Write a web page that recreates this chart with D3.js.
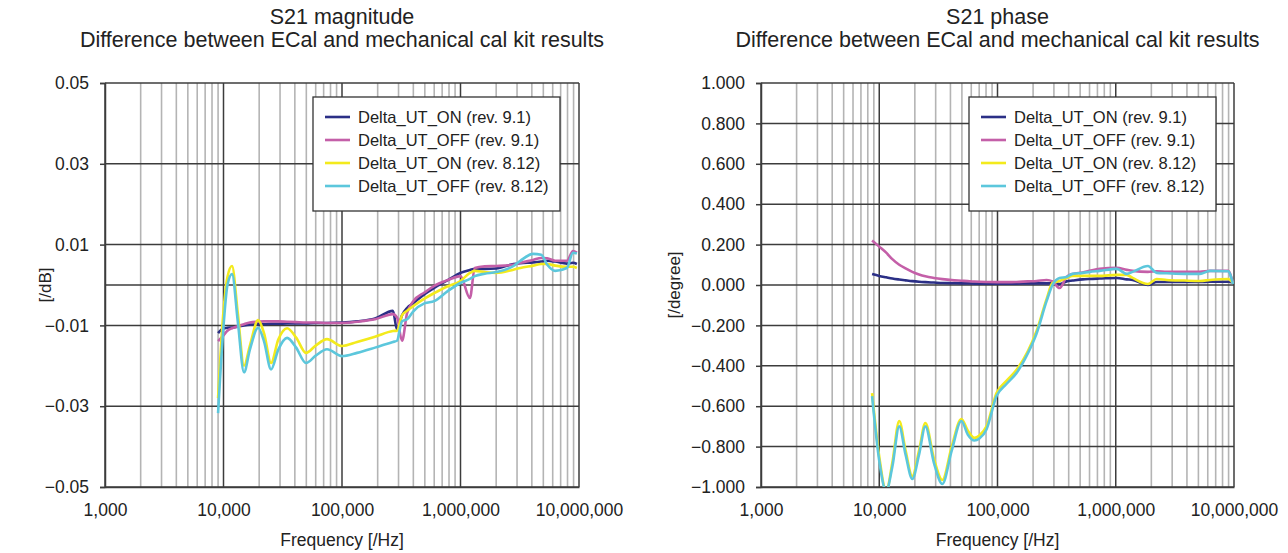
<!DOCTYPE html>
<html>
<head>
<meta charset="utf-8">
<script src="https://cdn.jsdelivr.net/npm/d3@7"></script>
<style>
    body { margin: 0; background: #fff; }
    svg { font-family: "Liberation Sans", Arial, sans-serif; }
</style>
</head>
<body>
<svg id="chart" width="1288" height="553"></svg>
<script>
// legend / series
const seriesNames = ["Delta_UT_ON (rev. 9.1)", "Delta_UT_OFF (rev. 9.1)", "Delta_UT_ON (rev. 8.12)", "Delta_UT_OFF (rev. 8.12)"];
const seriesColors = ["#2b2f86", "#c45fa8", "#f3ea1c", "#5cc7dc"];

// axis ticks
const xTicks = [1e3, 1e4, 1e5, 1e6, 1e7];
const magTicks = [-0.05, -0.03, -0.01, 0.01, 0.03, 0.05];
const magGrid = [-0.05, -0.03, -0.01, 0, 0.01, 0.03, 0.05];
const phaseTicks = [-1, -0.8, -0.6, -0.4, -0.2, 0, 0.2, 0.4, 0.6, 0.8, 1];

// S21 magnitude [dB]
const magFreq = [9000, 9900, 10800, 11800, 13200, 14900, 16700, 19600, 22000, 25200, 29000, 34400, 41000, 49700, 60000, 74700, 100000, 134000, 190000, 269000, 291000, 321000, 354000, 400000, 500000, 600000, 780000, 1000000, 1200000, 1320000, 1600000, 2000000, 2800000, 3200000, 4100000, 4800000, 5400000, 6300000, 7900000, 8900000, 9600000];
const magOn91 = [-0.0119, -0.0108, -0.0106, -0.0105, -0.0103, -0.0100, -0.0098, -0.0097, -0.0097, -0.0096, -0.0096, -0.0095, -0.0095, -0.0095, -0.0094, -0.0094, -0.0093, -0.0090, -0.0083, -0.0064, -0.0110, -0.0075, -0.0057, -0.0045, -0.0022, -0.0007, 0.0012, 0.0030, 0.0037, 0.0040, 0.0040, 0.0041, 0.0052, 0.0054, 0.0056, 0.0058, 0.0060, 0.0058, 0.0053, 0.0055, 0.0052];
const magOff91 = [-0.0139, -0.0126, -0.0113, -0.0107, -0.0102, -0.0097, -0.0093, -0.0091, -0.0090, -0.0090, -0.0090, -0.0091, -0.0092, -0.0093, -0.0093, -0.0094, -0.0094, -0.0091, -0.0085, -0.0072, -0.0080, -0.0138, -0.0070, -0.0040, -0.0018, -0.0002, 0.0012, 0.0022, -0.0032, 0.0042, 0.0046, 0.0047, 0.0050, 0.0055, 0.0062, 0.0067, 0.0066, 0.0060, 0.0060, 0.0084, 0.0080];
const magOn812 = [-0.0280, -0.0080, 0.0020, 0.0047, -0.0070, -0.0200, -0.0150, -0.0087, -0.0120, -0.0193, -0.0135, -0.0107, -0.0130, -0.0168, -0.0150, -0.0134, -0.0151, -0.0141, -0.0128, -0.0114, -0.0113, -0.0075, -0.0064, -0.0052, -0.0033, -0.0020, -0.0003, 0.0010, 0.0030, 0.0035, 0.0032, 0.0030, 0.0038, 0.0042, 0.0048, 0.0052, 0.0052, 0.0048, 0.0045, 0.0045, 0.0042];
const magOff812 = [-0.0317, -0.0120, 0.0000, 0.0027, -0.0090, -0.0216, -0.0160, -0.0106, -0.0140, -0.0209, -0.0160, -0.0131, -0.0155, -0.0193, -0.0175, -0.0159, -0.0176, -0.0168, -0.0155, -0.0141, -0.0138, -0.0090, -0.0085, -0.0065, -0.0045, -0.0040, -0.0015, 0.0005, 0.0015, 0.0022, 0.0028, 0.0032, 0.0047, 0.0060, 0.0077, 0.0075, 0.0050, 0.0035, 0.0042, 0.0080, 0.0078];

// S21 phase [degree]
const phaseFreq = [8700, 10000, 11450, 12900, 14760, 16700, 19040, 21700, 24550, 29000, 34200, 41000, 49500, 56000, 63800, 70300, 80700, 98100, 119000, 145000, 180000, 214000, 260000, 292000, 335000, 384000, 432000, 525000, 602000, 731000, 1020000, 1240000, 1390000, 1870000, 2220000, 2700000, 3800000, 5150000, 6260000, 8900000, 9800000];
const phaseOn91 = [0.054, 0.045, 0.038, 0.032, 0.027, 0.023, 0.019, 0.016, 0.014, 0.012, 0.010, 0.009, 0.008, 0.008, 0.007, 0.007, 0.007, 0.007, 0.007, 0.007, 0.008, 0.008, 0.008, 0.010, 0.005, 0.018, 0.022, 0.028, 0.030, 0.032, 0.035, 0.028, 0.025, 0.000, 0.015, 0.015, 0.015, 0.015, 0.016, 0.016, 0.012];
const phaseOff91 = [0.220, 0.190, 0.160, 0.128, 0.100, 0.082, 0.065, 0.052, 0.043, 0.035, 0.029, 0.024, 0.021, 0.019, 0.017, 0.016, 0.015, 0.014, 0.014, 0.015, 0.018, 0.020, 0.025, 0.018, -0.015, 0.040, 0.055, 0.062, 0.070, 0.080, 0.085, 0.075, 0.070, 0.065, 0.068, 0.065, 0.065, 0.065, 0.070, 0.070, 0.010];
const phaseOn812 = [-0.535, -0.850, -1.020, -0.880, -0.673, -0.820, -0.946, -0.820, -0.683, -0.860, -0.965, -0.800, -0.663, -0.720, -0.757, -0.745, -0.700, -0.535, -0.475, -0.420, -0.330, -0.228, -0.070, 0.010, 0.020, 0.035, 0.045, 0.045, 0.045, 0.045, 0.050, 0.050, 0.035, 0.005, 0.030, 0.025, 0.022, 0.020, 0.025, 0.030, 0.010];
const phaseOff812 = [-0.550, -0.870, -1.020, -0.900, -0.700, -0.840, -0.960, -0.840, -0.700, -0.880, -0.985, -0.820, -0.673, -0.740, -0.770, -0.760, -0.715, -0.550, -0.490, -0.435, -0.340, -0.240, -0.080, 0.000, 0.035, 0.040, 0.055, 0.060, 0.065, 0.070, 0.080, 0.055, 0.065, 0.094, 0.060, 0.058, 0.055, 0.055, 0.070, 0.068, 0.005];

class FreqChart {
    constructor(svg, left, top, width, height, id) {
        this.svg = svg;
        this.left = left;
        this.top = top;
        this.width = width;
        this.height = height;
        this.id = id;
    }

    initialize(title, yLabel, labelX, yDomain, yTicks, yGrid, yFormat) {
        const w = this.width, h = this.height;
        this.g = this.svg.append("g").attr("transform", `translate(${this.left},${this.top})`);
        this.x = d3.scaleLog().domain([1e3, 1e7]).range([0, w]);
        this.y = d3.scaleLinear().domain(yDomain).range([h, 0]);

        this.g.append("clipPath").attr("id", this.id)
            .append("rect").attr("width", w).attr("height", h);

        // minor decade lines
        const minor = [];
        xTicks.slice(0, -1).forEach(t => { for (let k = 2; k < 10; k++) minor.push(t * k); });
        this.g.append("g").selectAll("line").data(minor).join("line")
            .attr("x1", d => this.x(d)).attr("x2", d => this.x(d))
            .attr("y1", 0).attr("y2", h)
            .attr("stroke", "#b4b4b4").attr("stroke-width", 1.6);

        this.g.append("g").selectAll("line").data(yGrid).join("line")
            .attr("x1", 0).attr("x2", w)
            .attr("y1", d => this.y(d)).attr("y2", d => this.y(d))
            .attr("stroke", "#3c3c3c").attr("stroke-width", 1.5);

        this.g.append("g").selectAll("line").data(xTicks).join("line")
            .attr("x1", d => this.x(d)).attr("x2", d => this.x(d))
            .attr("y1", 0).attr("y2", h)
            .attr("stroke", "#3c3c3c").attr("stroke-width", 1.5);

        const yAxis = this.g.append("g")
            .call(d3.axisLeft(this.y).tickValues(yTicks).tickFormat(yFormat).tickSize(5).tickPadding(11));
        const xAxis = this.g.append("g").attr("transform", `translate(0,${h})`)
            .call(d3.axisBottom(this.x).tickValues(xTicks).tickFormat(d3.format(",")).tickSize(0).tickPadding(17));
        [yAxis, xAxis].forEach(a => {
            a.selectAll("path, line").attr("stroke", "#3c3c3c").attr("stroke-width", 1.5);
            a.selectAll("text").attr("fill", "#222").style("font-size", "17.5px")
                .style("font-family", "'Liberation Sans', Arial, sans-serif");
        });

        this.g.selectAll(".title").data(title).join("text")
            .attr("x", w / 2).attr("y", (d, i) => -59 + i * 23)
            .attr("text-anchor", "middle").attr("fill", "#222")
            .style("font-size", "21.5px")
            .text(d => d);

        this.g.append("text")
            .attr("transform", `translate(${labelX},${h / 2}) rotate(-90)`)
            .attr("text-anchor", "middle").attr("dy", "0.35em").attr("fill", "#222")
            .style("font-size", "17px")
            .text(yLabel);

        this.g.append("text")
            .attr("x", w / 2).attr("y", h + 59)
            .attr("text-anchor", "middle").attr("fill", "#222")
            .style("font-size", "17.5px")
            .text("Frequency [/Hz]");
    }

    update(freq, series) {
        const line = d3.line()
            .x((d, i) => this.x(freq[i]))
            .y(d => this.y(d))
            .curve(d3.curveMonotoneX);

        this.g.append("g").attr("clip-path", `url(#${this.id})`)
            .selectAll("path").data(series).join("path")
            .attr("d", d => line(d))
            .attr("fill", "none")
            .attr("stroke", (d, i) => seriesColors[i])
            .attr("stroke-width", 2.6)
            .attr("stroke-linejoin", "round");

        const legend = this.g.append("g").attr("transform", "translate(208,14)");
        legend.append("rect")
            .attr("width", 247).attr("height", 114)
            .attr("fill", "#fff").attr("stroke", "#333").attr("stroke-width", 1.3);
        const rows = legend.selectAll(".row").data(seriesNames).join("g")
            .attr("transform", (d, i) => `translate(0,${20 + i * 23})`);
        rows.append("line")
            .attr("x1", 12).attr("x2", 37)
            .attr("stroke", (d, i) => seriesColors[i]).attr("stroke-width", 2.6);
        rows.append("text")
            .attr("x", 45).attr("dy", "0.36em").attr("fill", "#222")
            .style("font-size", "16.5px")
            .text(d => d);
    }
}

const svg = d3.select("#chart");
const title2 = "Difference between ECal and mechanical cal kit results";

const magChart = new FreqChart(svg, 105, 83, 474, 404, "clipMag");
magChart.initialize(["S21 magnitude", title2], "[/dB]", -60, [-0.05, 0.05], magTicks, magGrid, d3.format(".2f"));
magChart.update(magFreq, [magOn91, magOff91, magOn812, magOff812]);

const phaseChart = new FreqChart(svg, 761, 83, 473, 404, "clipPhase");
phaseChart.initialize(["S21 phase", title2], "[/degree]", -87, [-1, 1], phaseTicks, phaseTicks, d3.format(".3f"));
phaseChart.update(phaseFreq, [phaseOn91, phaseOff91, phaseOn812, phaseOff812]);
</script>
</body>
</html>
